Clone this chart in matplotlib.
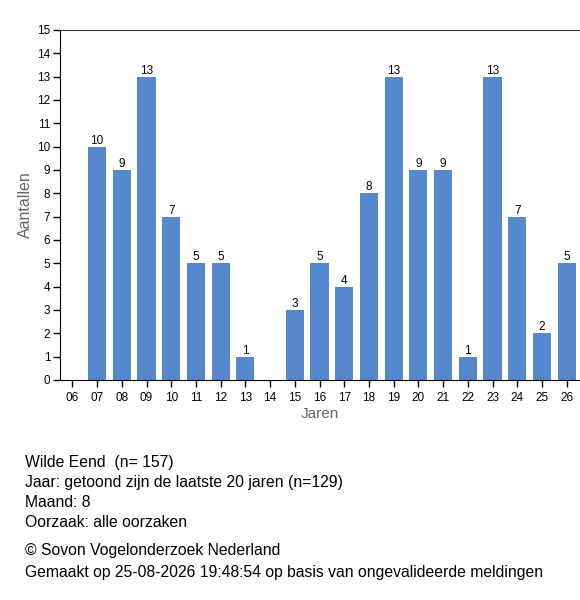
import numpy as np
import matplotlib.pyplot as plt

plt.rcParams['font.family'] = ['Liberation Sans', 'DejaVu Sans']

jaren = ["06", "07", "08", "09", "10", "11", "12", "13", "14", "15", "16",
         "17", "18", "19", "20", "21", "22", "23", "24", "25", "26"]
aantallen = [0, 10, 9, 13, 7, 5, 5, 1, 0, 3, 5, 4, 8, 13, 9, 9, 1, 13, 7, 2, 5]

info_regels = [
    "Wilde Eend  (n= 157)",
    "Jaar: getoond zijn de laatste 20 jaren (n=129)",
    "Maand: 8",
    "Oorzaak: alle oorzaken",
]
bron_regels = [
    "\u00a9 Sovon Vogelonderzoek Nederland",
    "Gemaakt op 25-08-2026 19:48:54 op basis van ongevalideerde meldingen",
]

fig = plt.figure(figsize=(5.8, 6.0), dpi=100)
ax = fig.add_axes([60 / 580, 220 / 600, 519 / 580, 350 / 600])

x = np.arange(len(jaren))
bars = ax.bar(x, aantallen, width=0.73, color="#5588cc")
for xi, v in zip(x, aantallen):
    if v > 0:
        ax.text(xi, v, str(v), ha="center", va="bottom", fontsize=8.5, color="black")

ax.set_xlim(-0.5, len(jaren) - 0.5)
ax.set_ylim(0, 15)
ax.set_yticks(range(0, 16))
ax.set_xticks(x)
ax.set_xticklabels(jaren)
ax.tick_params(axis="both", labelsize=8.5, length=5, width=1, direction="out")
ax.tick_params(axis="y", pad=2)
ax.spines["right"].set_visible(False)
ax.spines["top"].set_color("#333333")
ax.spines["left"].set_color("black")
ax.spines["bottom"].set_color("black")

ax.set_xlabel("Jaren", fontsize=11, color="#666666", labelpad=2)
ax.set_ylabel("Aantallen", fontsize=11.5, color="#666666")
ax.yaxis.set_label_coords(-0.052, 0.5)

y = 1 - 462 / 600
for regel in info_regels:
    fig.text(25 / 580, y, regel, fontsize=11.3, va="center", ha="left")
    y -= 20.3 / 600
y = 1 - 551 / 600
for regel in bron_regels:
    fig.text(25 / 580, y, regel, fontsize=11.3, va="center", ha="left")
    y -= 21 / 600

fig.savefig("out.png", dpi=100)
